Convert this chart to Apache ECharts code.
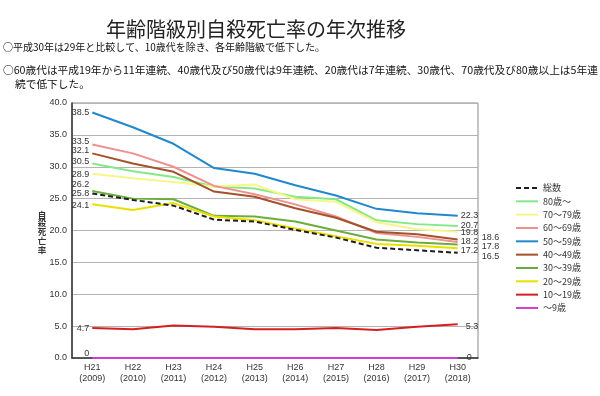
<!DOCTYPE html>
<html>
<head>
<meta charset="utf-8">
<script src="https://cdn.jsdelivr.net/npm/echarts@6.0.0/dist/echarts.min.js"></script>
<style>
  html, body { margin: 0; padding: 0; background: #fff; }
  #chart { width: 600px; height: 396px; }
</style>
</head>
<body>
<div id="chart"></div>
<script>
// 年次 (x軸)
const categories = ['H21\n(2009)', 'H22\n(2010)', 'H23\n(2011)', 'H24\n(2012)', 'H25\n(2013)',
  'H26\n(2014)', 'H27\n(2015)', 'H28\n(2016)', 'H29\n(2017)', 'H30\n(2018)']

// 自殺死亡率（人口10万人当たり）
const total = [25.8, 24.8, 23.9, 21.7, 21.4, 20.1, 18.9, 17.3, 16.9, 16.5]
const age80 = [30.5, 29.3, 28.4, 26.9, 26.6, 25.3, 24.9, 21.6, 21.0, 20.7]
const age70 = [28.9, 28.2, 27.6, 26.9, 27.2, 24.9, 24.5, 21.3, 20.2, 19.8]
const age60 = [33.5, 32.1, 30.0, 27.0, 25.7, 24.1, 22.2, 19.6, 19.0, 18.2]
const age50 = [38.5, 36.2, 33.6, 29.8, 28.9, 27.1, 25.5, 23.4, 22.7, 22.3]
const age40 = [32.1, 30.5, 29.2, 26.1, 25.3, 23.5, 22.0, 19.8, 19.4, 18.6]
const age30 = [26.2, 25.0, 24.9, 22.3, 22.2, 21.4, 20.0, 18.6, 18.1, 17.8]
const age20 = [24.1, 23.2, 24.3, 22.2, 21.6, 20.3, 19.1, 17.9, 17.6, 17.2]
const age10 = [4.7, 4.5, 5.1, 4.9, 4.5, 4.5, 4.7, 4.4, 4.9, 5.3]
const age0 = [0, 0, 0, 0, 0, 0, 0, 0, 0, 0]

const yTicks = [0, 5, 10, 15, 20, 25, 30, 35, 40]

const FONT = '"Liberation Sans", "Noto Sans CJK JP", sans-serif'
const JP = '"Noto Sans CJK JP", sans-serif'

// name, data, color, dashed, start label offset [dx,dy], end label [distance,dy]
const lines = [
  { name: '総数', data: total, color: '#1e1e1e', dashed: true, start: [0, 0], end: [24, 3.5], z: 5 },
  { name: '80歳～', data: age80, color: '#86e886', start: [0, -2], end: [3, -1] },
  { name: '70～79歳', data: age70, color: '#f6f68a', start: [0, 1], end: [3, 1] },
  { name: '60～69歳', data: age60, color: '#ef9090', start: [0, -3], end: [3, 0] },
  { name: '50～59歳', data: age50, color: '#2288cc', start: [0, 0], end: [3, 0] },
  { name: '40～49歳', data: age40, color: '#a5522a', start: [0, -3], end: [24, -2] },
  { name: '30～39歳', data: age30, color: '#6cae3c', start: [0, -6], end: [24, 2] },
  { name: '20～29歳', data: age20, color: '#ecdf00', start: [0, 1], end: [3, 2] },
  { name: '10～19歳', data: age10, color: '#d42020', start: [0, 0], end: [8, 2] },
  { name: '～9歳', data: age0, color: '#d23cd2', start: [0, -4], end: [9, 0] }
]

const chart = echarts.init(document.getElementById('chart'))

const series = lines.map(l => ({
  name: l.name,
  type: 'line',
  symbol: 'circle',
  symbolSize: 0,
  showSymbol: true,
  z: l.z || 2,
  lineStyle: { color: l.color, width: 2, type: l.dashed ? [5, 3] : 'solid' },
  itemStyle: { color: l.color },
  label: { show: false },
  data: l.data.map((v, i) => {
    const lab = { show: true, fontSize: 9, color: '#333', fontFamily: FONT }
    if (i === 0) {
      return { value: v, label: Object.assign(lab, { position: 'left', distance: 3, offset: [l.start[0], l.start[1]] }) }
    }
    if (i === l.data.length - 1) {
      return { value: v, label: Object.assign(lab, { position: 'right', distance: l.end[0], offset: [0, l.end[1]] }) }
    }
    return v
  })
}))

const option = {
  animation: false,
  textStyle: { fontFamily: FONT },
  graphic: [
    { type: 'text', x: 256, y: 29, style: { text: '年齢階級別自殺死亡率の年次推移', font: '20px ' + JP, fill: '#222', align: 'center', verticalAlign: 'middle' } },
    { type: 'text', x: 3, y: 47, style: { text: '○平成30年は29年と比較して、10歳代を除き、各年齢階級で低下した。', font: '10px ' + JP, fill: '#111', verticalAlign: 'middle' } },
    { type: 'text', x: 3, y: 70, style: { text: '○60歳代は平成19年から11年連続、40歳代及び50歳代は9年連続、20歳代は7年連続、30歳代、70歳代及び80歳以上は5年連', font: '10.7px ' + JP, fill: '#111', verticalAlign: 'middle' } },
    { type: 'text', x: 15, y: 84, style: { text: '続で低下した。', font: '10.7px ' + JP, fill: '#111', verticalAlign: 'middle' } },
    { type: 'text', x: 42, y: 232, style: { text: '自\n殺\n死\n亡\n率', font: 'bold 8.5px ' + JP, fill: '#333', align: 'center', verticalAlign: 'middle', lineHeight: 8.8 } }
  ],
  legend: {
    orient: 'vertical',
    left: 510,
    top: 178,
    itemWidth: 22,
    itemHeight: 10,
    itemGap: 3.33,
    itemStyle: { opacity: 0 },
    textStyle: { fontSize: 9, color: '#333', fontFamily: JP, lineHeight: 10 },
    data: lines.map(l => l.name)
  },
  grid: {
    left: 72,
    right: 122,
    top: 103,
    bottom: 38,
    show: true,
    borderColor: '#8a8a8a',
    borderWidth: 1
  },
  xAxis: {
    type: 'category',
    data: categories,
    boundaryGap: true,
    axisLine: { lineStyle: { color: '#333', width: 1.5 } },
    axisTick: { inside: true, length: 3, lineStyle: { color: '#555' } },
    axisLabel: { fontSize: 9, color: '#333', margin: 4, lineHeight: 11, fontFamily: FONT }
  },
  yAxis: {
    type: 'value',
    min: yTicks[0],
    max: yTicks[yTicks.length - 1],
    interval: 5,
    axisLine: { show: true, lineStyle: { color: '#333', width: 1.5 } },
    axisTick: { show: false },
    axisLabel: { fontSize: 9, color: '#333', margin: 5, formatter: v => v.toFixed(1) },
    splitLine: { lineStyle: { color: '#b4b4b4', width: 1 } }
  },
  series: series
}

chart.setOption(option)
</script>
</body>
</html>
